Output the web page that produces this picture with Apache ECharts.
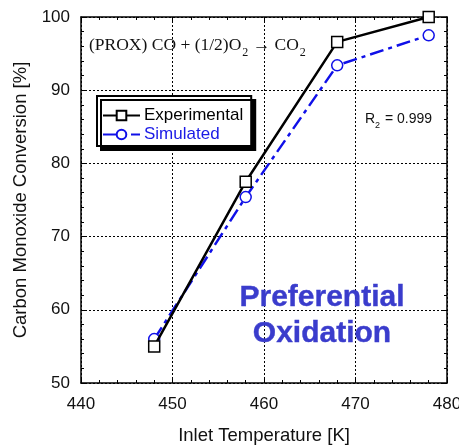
<!DOCTYPE html>
<html>
<head>
<meta charset="utf-8">
<script src="https://cdn.jsdelivr.net/npm/echarts@6/dist/echarts.min.js"></script>
<style>
  html, body { margin: 0; padding: 0; background: #ffffff; }
  #chart { width: 459px; height: 446px; }
</style>
</head>
<body>
<div id="chart"></div>
<script>
// Inlet temperatures [K]
const temperatures = [448, 458, 468, 478];
// CO conversion [%]
const experimental = [55.0, 77.5, 96.6, 100.0];
const simulated = [56.0, 75.4, 93.4, 97.5];

const xTicks = { min: 440, max: 480, interval: 10 };
const yTicks = { min: 50, max: 100, interval: 10 };

const pairs = (xs, ys) => xs.map((x, i) => [x, ys[i]]);

const chart = echarts.init(document.getElementById('chart'));

const sans = 'Liberation Sans, Arial, sans-serif';
const serif = 'Liberation Serif, Times New Roman, serif';
const tickFont = { fontFamily: sans, fontSize: 17, color: '#111' };
const nameFont = { fontFamily: sans, fontSize: 18.5, color: '#111' };
const dotted = { show: true, lineStyle: { color: '#000', width: 1, type: [2, 2] } };

function frameAxis(extra) {
  return Object.assign({
    type: 'value',
    axisLine: { show: true, onZero: false, lineStyle: { color: '#000', width: 1.5 } },
    axisTick: { show: true, inside: true, length: 5, lineStyle: { color: '#000', width: 1 } },
    minorTick: { show: true, splitNumber: 5, length: 3, lineStyle: { color: '#000', width: 1 } },
    splitLine: { show: false }
  }, extra);
}

const option = {
  backgroundColor: '#ffffff',
  animation: false,
  grid: { left: 81, right: 12, top: 17, bottom: 63, outerBoundsMode: 'none', containLabel: false },
  xAxis: [
    frameAxis({
      position: 'bottom',
      min: xTicks.min, max: xTicks.max, interval: xTicks.interval,
      axisLabel: Object.assign({ margin: 13 }, tickFont),
      splitLine: dotted,
      name: 'Inlet Temperature [K]',
      nameLocation: 'middle',
      nameGap: 43,
      nameTextStyle: nameFont
    }),
    frameAxis({
      position: 'top',
      min: xTicks.min, max: xTicks.max, interval: xTicks.interval,
      axisLabel: { show: false }
    })
  ],
  yAxis: [
    frameAxis({
      position: 'left',
      min: yTicks.min, max: yTicks.max, interval: yTicks.interval,
      axisLabel: Object.assign({ margin: 11 }, tickFont),
      splitLine: dotted,
      name: 'Carbon Monoxide Conversion [%]',
      nameLocation: 'middle',
      nameGap: 48,
      nameTextStyle: nameFont
    }),
    frameAxis({
      position: 'right',
      min: yTicks.min, max: yTicks.max, interval: yTicks.interval,
      axisLabel: { show: false }
    })
  ],
  legend: {
    orient: 'vertical',
    left: 97,
    top: 96,
    padding: [11, 8, 3, 5],
    itemWidth: 37,
    itemHeight: 12,
    itemGap: 2,
    backgroundColor: '#ffffff',
    borderColor: '#000',
    borderWidth: 2,
    borderRadius: 0,
    shadowColor: '#000',
    shadowBlur: 0,
    shadowOffsetX: 4,
    shadowOffsetY: 4,
    textStyle: { fontFamily: sans, fontSize: 17, padding: [0, 0, 0, -1] },
    data: [
      { name: 'Experimental', textStyle: { color: '#000' } },
      { name: 'Simulated', textStyle: { color: '#1a1ae6' } }
    ]
  },
  series: [
    {
      name: 'Experimental',
      type: 'line',
      data: pairs(temperatures, experimental),
      symbol: 'rect',
      symbolSize: 11,
      z: 3,
      lineStyle: { color: '#000', width: 2.5 },
      itemStyle: { color: '#ffffff', borderColor: '#000', borderWidth: 1.5 }
    },
    {
      name: 'Simulated',
      type: 'line',
      data: pairs(temperatures, simulated),
      symbol: 'circle',
      symbolSize: 11,
      z: 2,
      lineStyle: { color: '#1010e8', width: 2.5, type: [14, 5, 4, 5] },
      itemStyle: { color: '#ffffff', borderColor: '#1010e8', borderWidth: 1.5 }
    }
  ],
  graphic: [
    {
      type: 'text',
      left: 89,
      top: 36,
      z: 10,
      style: {
        text: '(PROX) CO + (1/2)O{sub|2} \u2192 CO{sub|2}',
        fontFamily: serif,
        fontSize: 17.5,
        fill: '#111',
        rich: {
          sub: { fontFamily: serif, fontSize: 12, fill: '#111', padding: [16, 0, 0, 1] }
        }
      }
    },
    {
      type: 'text',
      left: 365,
      top: 112,
      z: 10,
      style: {
        text: 'R{sub|2} = 0.999',
        fontFamily: sans,
        fontSize: 14,
        fill: '#111',
        rich: {
          sub: { fontFamily: sans, fontSize: 9, fill: '#111', padding: [14, 1, 0, 0] }
        }
      }
    },
    {
      type: 'text',
      x: 322,
      y: 280,
      z: 10,
      style: {
        text: 'Preferential\nOxidation',
        align: 'center',
        verticalAlign: 'top',
        fontFamily: sans,
        fontWeight: 'bold',
        fontSize: 30,
        lineHeight: 36,
        fill: '#3a3ccc',
        stroke: '#3a3ccc',
        lineWidth: 0.4,
        shadowColor: 'rgba(90,90,90,0.55)',
        shadowBlur: 2,
        shadowOffsetX: 2,
        shadowOffsetY: 2
      }
    }
  ]
};

chart.setOption(option);
</script>
</body>
</html>
